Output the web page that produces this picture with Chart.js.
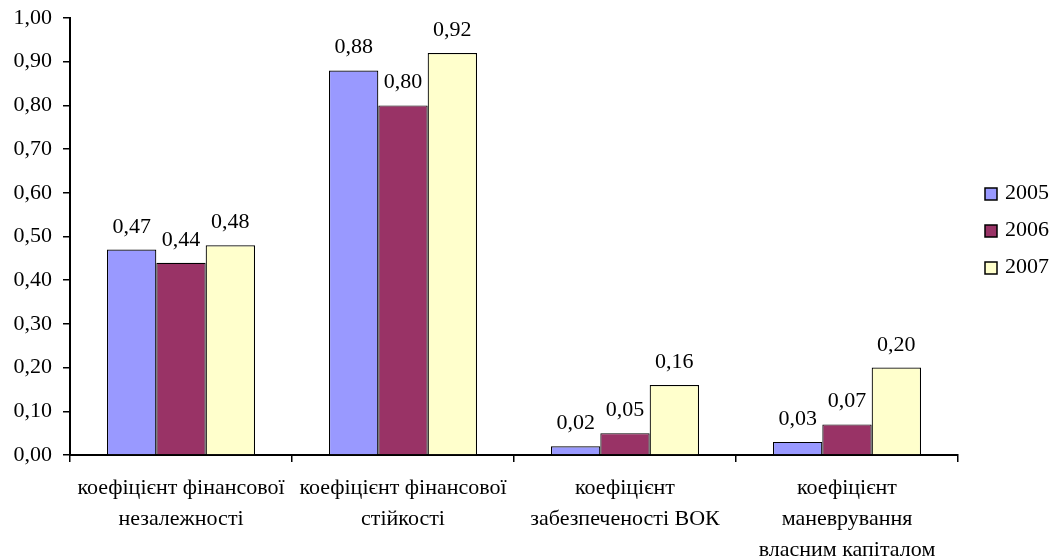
<!DOCTYPE html>
<html>
<head>
<meta charset="utf-8">
<script src="https://cdn.jsdelivr.net/npm/chart.js@4"></script>
<style>
  html, body { margin: 0; padding: 0; background: #fff; }
  #wrap { width: 1060px; height: 557px; position: relative; }
</style>
</head>
<body>
<div id="wrap"><canvas id="c"></canvas></div>
<script>
// Financial stability ratios, 2005–2007
const categories = [
  ['коефіцієнт фінансової', 'незалежності'],
  ['коефіцієнт фінансової', 'стійкості'],
  ['коефіцієнт', 'забезпеченості ВОК'],
  ['коефіцієнт', 'маневрування', 'власним капіталом']
];
const years = ['2005', '2006', '2007'];
const values2005 = [0.47, 0.88, 0.02, 0.03];
const values2006 = [0.44, 0.80, 0.05, 0.07];
const values2007 = [0.48, 0.92, 0.16, 0.20];
const yTicks = [0, 0.1, 0.2, 0.3, 0.4, 0.5, 0.6, 0.7, 0.8, 0.9, 1.0];

const colors = ['#9999FF', '#993366', '#FFFFCC'];
const FONT = '"Times New Roman", "Liberation Serif", "DejaVu Serif", serif';
const FSIZE = 22;

const fmt = v => v.toFixed(2).replace('.', ',');

// value labels above each bar
const valueLabels = {
  id: 'valueLabels',
  afterDatasetsDraw(chart) {
    const ctx = chart.ctx;
    ctx.save();
    ctx.font = FSIZE + 'px ' + FONT;
    ctx.fillStyle = '#000';
    ctx.textAlign = 'center';
    ctx.textBaseline = 'alphabetic';
    chart.data.datasets.forEach((ds, i) => {
      chart.getDatasetMeta(i).data.forEach((el, j) => {
        ctx.fillText(fmt(ds.data[j]), el.x, el.y - 17);
      });
    });
    ctx.restore();
  }
};

// legend on the right, built from the datasets
const sideLegend = {
  id: 'sideLegend',
  afterDraw(chart) {
    const ctx = chart.ctx;
    ctx.save();
    ctx.font = FSIZE + 'px ' + FONT;
    ctx.textBaseline = 'middle';
    ctx.textAlign = 'left';
    const n = chart.data.datasets.length;
    const step = 37;
    const cy = 230;
    chart.data.datasets.forEach((ds, i) => {
      const y = cy + (i - (n - 1) / 2) * step;
      ctx.fillStyle = ds.backgroundColor;
      ctx.fillRect(985, y - 5, 12, 12);
      ctx.strokeStyle = '#000';
      ctx.lineWidth = 1.5;
      ctx.strokeRect(985, y - 5, 12, 12);
      ctx.fillStyle = '#000';
      ctx.fillText(ds.label, 1005, y);
    });
    ctx.restore();
  }
};

const datasets = [values2005, values2006, values2007].map((vals, i) => ({
  label: years[i],
  data: vals,
  backgroundColor: colors[i],
  borderColor: '#000',
  borderWidth: 1.2,
  borderSkipped: 'bottom',
  categoryPercentage: 0.667,
  barPercentage: 1.0
}));

new Chart(document.getElementById('c'), {
  type: 'bar',
  data: { labels: categories, datasets },
  options: {
    responsive: true,
    maintainAspectRatio: false,
    animation: false,
    devicePixelRatio: 1,
    layout: { padding: { top: 18, right: 102, left: 0, bottom: 0 } },
    plugins: {
      legend: { display: false },
      tooltip: { enabled: false }
    },
    scales: {
      x: {
        offset: true,
        grid: {
          offset: true,
          drawOnChartArea: false,
          drawTicks: true,
          tickLength: 7,
          color: '#000',
          lineWidth: 1.5
        },
        border: { display: true, color: '#000', width: 2 },
        ticks: {
          color: '#000',
          font: { family: FONT, size: FSIZE, lineHeight: 1.4 },
          padding: 11,
          maxRotation: 0,
          autoSkip: false
        },
        afterFit(scale) {
          scale.height = 102;
          scale.paddingLeft = 0;
          scale.paddingRight = 0;
        }
      },
      y: {
        min: 0,
        max: 1,
        afterBuildTicks(scale) { scale.ticks = yTicks.map(v => ({ value: v })); },
        grid: {
          drawOnChartArea: false,
          drawTicks: true,
          tickLength: 7,
          color: '#000',
          lineWidth: 1.5
        },
        border: { display: true, color: '#000', width: 2 },
        ticks: {
          color: '#000',
          font: { family: FONT, size: FSIZE },
          padding: 11,
          callback: v => fmt(v)
        },
        afterFit(scale) {
          scale.width = 70;
          scale.paddingTop = 0;
          scale.paddingBottom = 0;
        }
      }
    }
  },
  plugins: [valueLabels, sideLegend]
});
</script>
</body>
</html>
